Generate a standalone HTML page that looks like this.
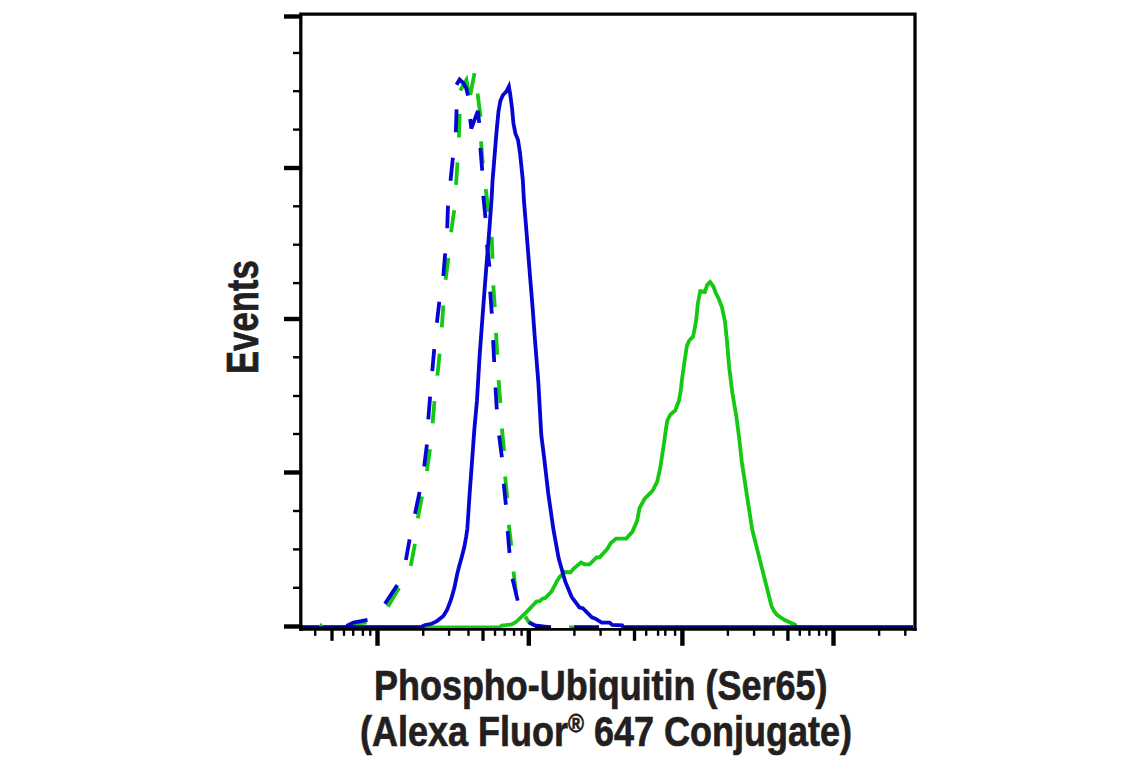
<!DOCTYPE html>
<html><head><meta charset="utf-8"><style>
html,body{margin:0;padding:0;background:#fff;}
body{width:1141px;height:768px;overflow:hidden;position:relative;}
svg{position:absolute;left:0;top:0;}
.t{position:absolute;font-family:"Liberation Sans",sans-serif;font-weight:bold;color:#231f20;white-space:nowrap;line-height:1;-webkit-text-stroke:0.7px #231f20;}
</style></head><body>
<svg width="1141" height="768" viewBox="0 0 1141 768">
<path d="M300 627.5 L432 627.5 L499 627.5 L502 625.6 L511.6 624.4 L515.7 622.3 L526.7 611.8 L536.6 601.4 L539.6 601.1 L542.7 598.5 L545 598.2 L551.5 591.5 L554.8 585.5 L556.5 581.9 L559.4 577.3 L564.9 572 L570.5 572.2 L574 568.3 L581 562.6 L584.5 564.3 L589.5 564.4 L596.6 557.3 L599.7 557.3 L607.5 548.75 L610.6 543.3 L616.1 538.6 L626.25 538.6 L632.5 531.6 L637.2 520.6 L639.5 508.1 L644.7 498.75 L652.5 490.9 L657.2 481.6 L660.3 467.5 L663.4 447.2 L665.8 430 L667.3 420.6 L670.5 414.4 L675.2 410.5 L679.1 400.3 L680.9 389.4 L681.9 380 L684.5 361.6 L686.9 345.9 L689.2 340.5 L693.1 336.6 L694.7 328.75 L696.25 319.4 L697.8 303.75 L700.2 291.25 L704.8 292 L707.2 285 L710 281.9 L713.4 286.5 L715.6 292.5 L718.8 299 L721.9 307 L725 321.7 L727.1 342.5 L729.2 367.5 L732.3 392.5 L736.5 417.5 L739.4 440 L741.7 461.25 L746.9 495.1 L752.1 529 L758.6 555 L765.2 581 L771.5 606 L774 611 L776.9 614.9 L784.7 620.1 L795.1 624.8 L796.3 627.5 L913 627.5" fill="none" stroke="#14c814" stroke-width="3.8" stroke-linejoin="miter" stroke-miterlimit="6"/>
<path d="M349 625.5 L357 623.4 L366.6 622.5 M387.9 606.8 L399 588 M410.7 565.8 L415 543.9 M417.8 518.4 L422 496.5 M426.9 471 L430 449.2 M432.6 423.3 L434.5 401.1 M437.4 375.6 L439.6 353.8 M441.8 327.3 L443.3 305.5 M445.6 279.8 L448.4 258 M451.1 232.2 L454.2 210.3 M456 184.8 L457.5 162.5 M458.9 137.5 L459.7 114 M460.2 90.5 L466.4 80 L468.5 92 M470.3 95 L474.5 73.2 M477.6 93.5 L480.5 116.7 M481 141.4 L482.8 163.5 M485.7 188.9 L488.6 211.75 M491.7 236.9 L492.5 258.75 M493.3 285.3 L494.8 307.2 M496 332.8 L497.3 354.7 M498.6 380.2 L500.4 403 M501.9 428.5 L504.1 451 M505.1 476.5 L507.3 498.3 M508.8 524.8 L511.3 545.7 M513.5 571.5 L516 593 M525.3 616.4 L528.8 622.1 L534.9 625.5 L547 627.5 M569.1 627.5 L592 627.5" fill="none" stroke="#14c814" stroke-width="3.8" stroke-linejoin="miter"/>
<path d="M346.5 626 L353.5 622.6 L361.3 621.2 L367.5 619.9 M385 603.9 L397.3 585.1 M405.9 560 L409.6 539.4 M415 513.8 L419.6 492 M424.2 466.5 L426.9 444.6 M428.3 419.4 L430.1 396.6 M432.3 371.1 L434.2 349.2 M436.9 322.8 L439.3 301.8 M443.3 276 L445.2 253.3 M447.2 228.3 L448 205.6 M450.5 180.7 L452.9 157.8 M455.8 132.3 L456.6 109.4 M456.5 84.7 L459.6 79.5 L463 82.6 L466.1 87.8 L468 95.6 M470.2 119 L471.3 128.5 L477.9 111 L479.2 122.9 M480.4 147.9 L482.2 170.7 M483.3 195.9 L485.5 218 M487 244.7 L489.4 266.6 M490.2 291.6 L491.8 313.7 M493.1 340.1 L494.2 362 M495.5 387.5 L496.8 409.3 M499.1 435.5 L501.9 457.3 M503.7 483.8 L505.9 504.7 M507.7 531.1 L509.5 553 M512.5 578.75 L517.7 600.6 M528.8 622.3 L534.9 625.5 L550.7 627.5 M574.3 627.5 L598.9 627.5" fill="none" stroke="#0606d4" stroke-width="3.8" stroke-linejoin="miter"/>
<path d="M300 627.5 L420 627.5 L425.2 625 L431.7 623.75 L436.9 621.1 L443.4 615.9 L447.3 609.4 L451.25 599 L454.5 587.3 L457.1 574.3 L459.1 566.5 L461.7 557.3 L464.3 547 L466.2 536.5 L467.3 529 L469.7 492.9 L472.4 456.4 L474.3 430 L477 400.2 L479.7 354.7 L483.4 305 L486.25 268 L489.4 229 L491.5 200 L492.6 180 L494.6 155.5 L496.5 132 L498.5 111.25 L500.4 100.8 L503 95 L506.3 91.7 L508.9 86.5 L510.2 94.3 L512.1 108.6 L513.4 123 L515.4 133.4 L518 139.9 L520 152.9 L521.9 171.1 L522.8 180 L523.9 200 L526.9 236.9 L530 276 L532.8 310 L534.7 336.4 L538.3 382 L541.3 435 L544.3 459 L548.2 492.9 L553.4 529.4 L558.6 558 L565.2 581.5 L571.7 597.1 L579.5 607.5 L582.8 608.2 L591.9 617.3 L595.4 618.75 L601.7 622.6 L609.5 622.6 L612.3 625 L622.1 625.4 L623.5 627.5 L913 627.5" fill="none" stroke="#0606d4" stroke-width="3.8" stroke-linejoin="miter" stroke-miterlimit="6"/>
<path d="M302 627.5 H420 M535 627.5 H551 M574.3 627.5 H599 M623.5 627.5 H913" fill="none" stroke="#00007a" stroke-width="3.8"/>
<path d="M318.6 626.2 L321 622.8 L323.4 626.2 Z" fill="#14c814"/>
<line x1="284" y1="16.5" x2="300" y2="16.5" stroke="#000" stroke-width="4.4"/>
<line x1="284" y1="168" x2="300" y2="168" stroke="#000" stroke-width="4.4"/>
<line x1="284" y1="319" x2="300" y2="319" stroke="#000" stroke-width="4.4"/>
<line x1="284" y1="472.5" x2="300" y2="472.5" stroke="#000" stroke-width="4.4"/>
<line x1="284" y1="626.5" x2="300" y2="626.5" stroke="#000" stroke-width="4.4"/>
<line x1="293" y1="53.0" x2="300" y2="53.0" stroke="#000" stroke-width="2.4"/>
<line x1="293" y1="91.2" x2="300" y2="91.2" stroke="#000" stroke-width="2.4"/>
<line x1="293" y1="129.6" x2="300" y2="129.6" stroke="#000" stroke-width="2.4"/>
<line x1="293" y1="206.3" x2="300" y2="206.3" stroke="#000" stroke-width="2.4"/>
<line x1="293" y1="244.7" x2="300" y2="244.7" stroke="#000" stroke-width="2.4"/>
<line x1="293" y1="283.1" x2="300" y2="283.1" stroke="#000" stroke-width="2.4"/>
<line x1="293" y1="357.3" x2="300" y2="357.3" stroke="#000" stroke-width="2.4"/>
<line x1="293" y1="396.0" x2="300" y2="396.0" stroke="#000" stroke-width="2.4"/>
<line x1="293" y1="434.0" x2="300" y2="434.0" stroke="#000" stroke-width="2.4"/>
<line x1="293" y1="511.0" x2="300" y2="511.0" stroke="#000" stroke-width="2.4"/>
<line x1="293" y1="549.4" x2="300" y2="549.4" stroke="#000" stroke-width="2.4"/>
<line x1="293" y1="587.8" x2="300" y2="587.8" stroke="#000" stroke-width="2.4"/>
<line x1="315.2" y1="629" x2="315.2" y2="635.8" stroke="#000" stroke-width="2.4"/>
<line x1="344" y1="629" x2="344" y2="635.8" stroke="#000" stroke-width="2.4"/>
<line x1="353.2" y1="629" x2="353.2" y2="635.8" stroke="#000" stroke-width="2.4"/>
<line x1="362.9" y1="629" x2="362.9" y2="635.8" stroke="#000" stroke-width="2.4"/>
<line x1="370.3" y1="629" x2="370.3" y2="635.8" stroke="#000" stroke-width="2.4"/>
<line x1="423.2" y1="629" x2="423.2" y2="635.8" stroke="#000" stroke-width="2.4"/>
<line x1="449.1" y1="629" x2="449.1" y2="635.8" stroke="#000" stroke-width="2.4"/>
<line x1="468.5" y1="629" x2="468.5" y2="635.8" stroke="#000" stroke-width="2.4"/>
<line x1="495" y1="629" x2="495" y2="635.8" stroke="#000" stroke-width="2.4"/>
<line x1="504.7" y1="629" x2="504.7" y2="635.8" stroke="#000" stroke-width="2.4"/>
<line x1="514.1" y1="629" x2="514.1" y2="635.8" stroke="#000" stroke-width="2.4"/>
<line x1="521.6" y1="629" x2="521.6" y2="635.8" stroke="#000" stroke-width="2.4"/>
<line x1="574.4" y1="629" x2="574.4" y2="635.8" stroke="#000" stroke-width="2.4"/>
<line x1="600.6" y1="629" x2="600.6" y2="635.8" stroke="#000" stroke-width="2.4"/>
<line x1="620" y1="629" x2="620" y2="635.8" stroke="#000" stroke-width="2.4"/>
<line x1="646.2" y1="629" x2="646.2" y2="635.8" stroke="#000" stroke-width="2.4"/>
<line x1="658.1" y1="629" x2="658.1" y2="635.8" stroke="#000" stroke-width="2.4"/>
<line x1="665.3" y1="629" x2="665.3" y2="635.8" stroke="#000" stroke-width="2.4"/>
<line x1="675.1" y1="629" x2="675.1" y2="635.8" stroke="#000" stroke-width="2.4"/>
<line x1="727.9" y1="629" x2="727.9" y2="635.8" stroke="#000" stroke-width="2.4"/>
<line x1="754.1" y1="629" x2="754.1" y2="635.8" stroke="#000" stroke-width="2.4"/>
<line x1="773.5" y1="629" x2="773.5" y2="635.8" stroke="#000" stroke-width="2.4"/>
<line x1="799.8" y1="629" x2="799.8" y2="635.8" stroke="#000" stroke-width="2.4"/>
<line x1="809.4" y1="629" x2="809.4" y2="635.8" stroke="#000" stroke-width="2.4"/>
<line x1="819.1" y1="629" x2="819.1" y2="635.8" stroke="#000" stroke-width="2.4"/>
<line x1="826.3" y1="629" x2="826.3" y2="635.8" stroke="#000" stroke-width="2.4"/>
<line x1="879.1" y1="629" x2="879.1" y2="635.8" stroke="#000" stroke-width="2.4"/>
<line x1="905.3" y1="629" x2="905.3" y2="635.8" stroke="#000" stroke-width="2.4"/>
<line x1="332" y1="629" x2="332" y2="640.8" stroke="#000" stroke-width="3.3"/>
<line x1="483" y1="629" x2="483" y2="640.8" stroke="#000" stroke-width="3.3"/>
<line x1="634.5" y1="629" x2="634.5" y2="640.8" stroke="#000" stroke-width="3.3"/>
<line x1="787.9" y1="629" x2="787.9" y2="640.8" stroke="#000" stroke-width="3.3"/>
<line x1="377.5" y1="629" x2="377.5" y2="645.8" stroke="#000" stroke-width="4.4"/>
<line x1="528.8" y1="629" x2="528.8" y2="645.8" stroke="#000" stroke-width="4.4"/>
<line x1="682.4" y1="629" x2="682.4" y2="645.8" stroke="#000" stroke-width="4.4"/>
<line x1="833.5" y1="629" x2="833.5" y2="645.8" stroke="#000" stroke-width="4.4"/>
<path d="M300.8 630.85 V14.2 H915 V630.85" fill="none" stroke="#000" stroke-width="3.3" stroke-linejoin="miter"/><path d="M299.15 629.4 H916.65" stroke="#000" stroke-width="2.9"/>
</svg>
<div class="t" id="l1" style="left:374px;top:665px;font-size:42.5px;transform-origin:0 0;transform:scaleX(0.846)">Phospho-Ubiquitin (Ser65)</div>
<div class="t" id="l2" style="left:360px;top:710.5px;font-size:42.5px;transform-origin:0 0;transform:scaleX(0.847)">(Alexa Fluor<span style="font-size:0.6em;vertical-align:0.55em">®</span> 647 Conjugate)</div>
<div class="t" id="ev" style="left:221px;top:374px;font-size:44.5px;transform-origin:0 0;transform:rotate(-90deg) scaleX(0.779)">Events</div>
</body></html>
